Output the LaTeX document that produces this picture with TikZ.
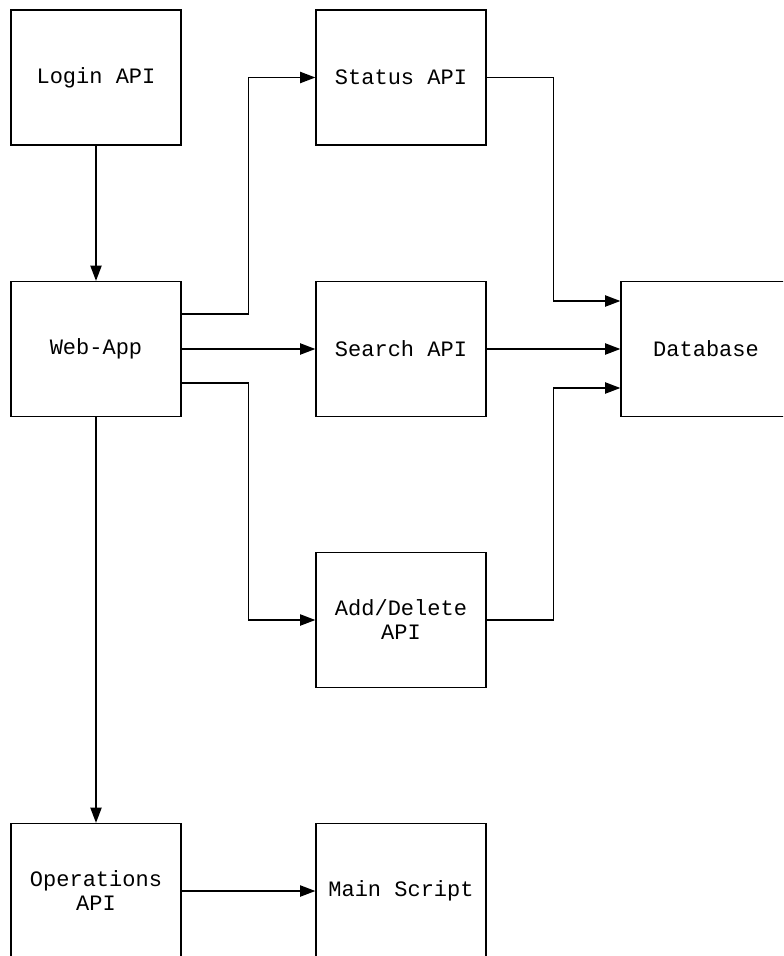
\documentclass[tikz,border=0pt]{standalone}
\usepackage{fontspec}
\setmonofont{Liberation Mono}
\usetikzlibrary{arrows.meta,calc}
\begin{document}
\begin{tikzpicture}[x=0.75pt,y=-0.75pt,
  box/.style={draw,line width=1pt,minimum width=127.5pt,minimum height=101.25pt,inner sep=0pt,
    align=center,font=\ttfamily\fontsize{16.5}{18}\selectfont},
  arr/.style={line width=1pt,-{Triangle[length=11.5pt,width=8.5pt]}}]
\useasboundingbox (0,0) rectangle (783,956);
\clip (0,0) rectangle (783,956);
\node[box] (login) at (96,77.5) {Login API};
\node[box] (webapp) at (96,349) {Web-App};
\node[box] (status) at (401,77.5) {Status API};
\node[box] (search) at (401,349) {Search API};
\node[box] (db) at (706,349) {Database};
\node[box] (add) at (401,620) {Add/Delete\\API};
\node[box] (ops) at (96,891) {Operations\\API};
\node[box] (main) at (401,891) {Main Script};
\draw[arr] (login) -- (webapp);
\draw[arr] ($(webapp.east)+(0,-35)$) -- ++(67,0) |- (status.west);
\draw[arr] (webapp) -- (search);
\draw[arr] ($(webapp.east)+(0,34)$) -- ++(67,0) |- (add.west);
\draw[arr] (webapp) -- (ops);
\draw[arr] (status.east) -- ++(67,0) |- ($(db.west)+(0,-48)$);
\draw[arr] (search) -- (db);
\draw[arr] (add.east) -- ++(67,0) |- ($(db.west)+(0,39)$);
\draw[arr] (ops) -- (main);
\end{tikzpicture}
\end{document}
